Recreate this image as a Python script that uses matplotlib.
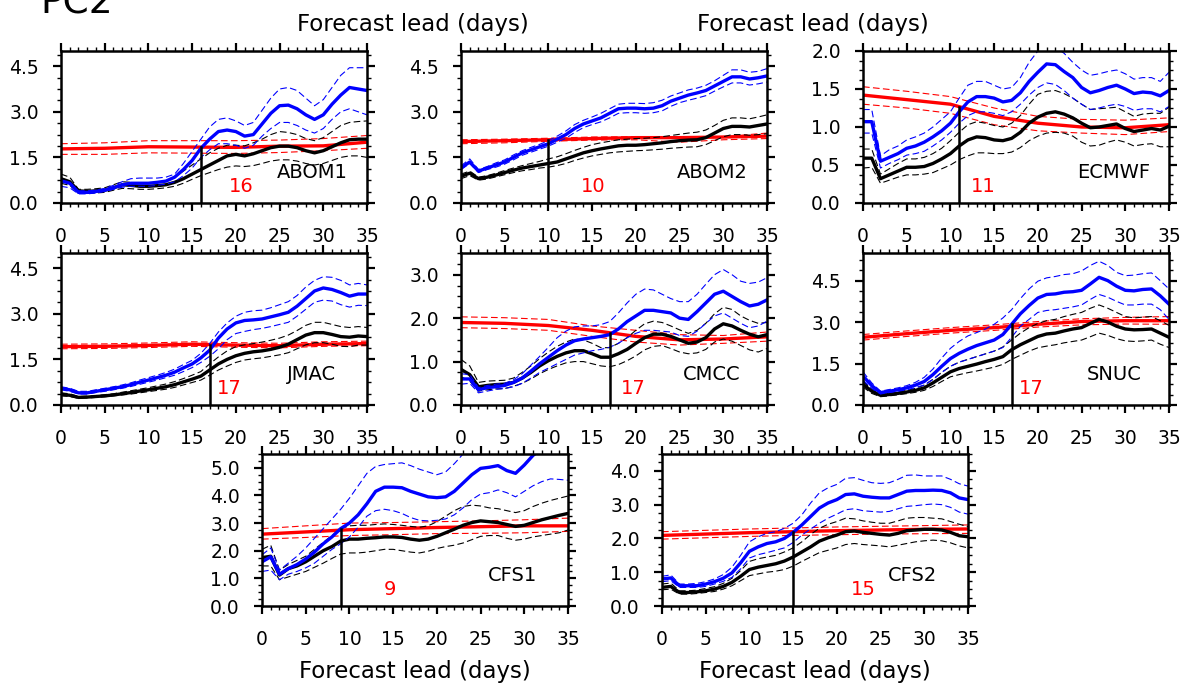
import matplotlib
matplotlib.use("Agg")
import matplotlib.pyplot as plt
import numpy as np
from matplotlib.ticker import MultipleLocator, AutoMinorLocator

# lead days
days = list(range(36))
red_days = [0, 5, 10, 15, 20, 25, 30, 35]

# ---------------- ABOM1 ----------------
abom1_blue = [0.73, 0.65, 0.35, 0.35, 0.38, 0.42, 0.5, 0.6, 0.65, 0.65, 0.65, 0.68, 0.72, 0.85, 1.1, 1.4, 1.8, 2.1,
              2.35, 2.4, 2.35, 2.2, 2.25, 2.6, 2.95, 3.2, 3.22, 3.1, 2.9, 2.75, 2.9, 3.25, 3.55, 3.8, 3.75, 3.7]
abom1_blue_hi = [0.7, 0.65, 0.4, 0.4, 0.42, 0.48, 0.58, 0.7, 0.8, 0.82, 0.82, 0.82, 0.85, 0.95, 1.3, 1.7, 2.1, 2.5,
                 2.75, 2.8, 2.7, 2.55, 2.65, 3.05, 3.45, 3.75, 3.8, 3.7, 3.45, 3.2, 3.4, 3.8, 4.2, 4.45, 4.45, 4.45]
abom1_blue_lo = [0.55, 0.5, 0.3, 0.3, 0.33, 0.38, 0.45, 0.52, 0.55, 0.55, 0.55, 0.58, 0.62, 0.7, 0.9, 1.15, 1.5, 1.75,
                 1.95, 1.95, 1.9, 1.8, 1.9, 2.2, 2.45, 2.65, 2.65, 2.55, 2.4, 2.3, 2.45, 2.75, 3.0, 3.1, 3.0, 2.9]
abom1_black = [0.8, 0.7, 0.4, 0.38, 0.4, 0.42, 0.5, 0.6, 0.58, 0.55, 0.55, 0.57, 0.6, 0.68, 0.8, 0.95, 1.1, 1.25,
               1.4, 1.55, 1.6, 1.55, 1.62, 1.72, 1.82, 1.87, 1.87, 1.82, 1.72, 1.65, 1.72, 1.85, 1.98, 2.08, 2.1, 2.1]
abom1_black_hi = [0.95, 0.85, 0.45, 0.45, 0.47, 0.5, 0.6, 0.7, 0.68, 0.65, 0.65, 0.67, 0.72, 0.85, 1.05, 1.25, 1.45,
                  1.65, 1.8, 1.9, 1.9, 1.88, 1.98, 2.1, 2.25, 2.35, 2.32, 2.25, 2.12, 2.05, 2.15, 2.35, 2.55, 2.65,
                  2.68, 2.7]
abom1_black_lo = [0.65, 0.58, 0.33, 0.32, 0.33, 0.35, 0.42, 0.48, 0.47, 0.45, 0.45, 0.47, 0.5, 0.55, 0.65, 0.78, 0.9,
                  1.0, 1.1, 1.18, 1.22, 1.2, 1.23, 1.3, 1.38, 1.42, 1.42, 1.38, 1.3, 1.25, 1.3, 1.4, 1.5, 1.55, 1.55,
                  1.5]
abom1_red = [1.78, 1.8, 1.85, 1.84, 1.83, 1.87, 1.88, 2.0]
abom1_red_hi = [1.95, 1.98, 2.05, 2.05, 2.05, 2.07, 2.12, 2.22]
abom1_red_lo = [1.6, 1.6, 1.65, 1.64, 1.63, 1.66, 1.72, 1.8]

# ---------------- ABOM2 ----------------
abom2_blue = [1.15, 1.35, 1.05, 1.15, 1.25, 1.35, 1.5, 1.65, 1.75, 1.85, 1.95, 2.1, 2.25, 2.45, 2.6, 2.7, 2.8, 2.95,
              3.1, 3.12, 3.12, 3.1, 3.12, 3.2, 3.35, 3.45, 3.55, 3.62, 3.7, 3.85, 4.0, 4.15, 4.15, 4.08, 4.12, 4.18]
abom2_blue_hi = [1.22, 1.45, 1.1, 1.2, 1.32, 1.42, 1.58, 1.72, 1.83, 1.93, 2.05, 2.2, 2.37, 2.58, 2.72, 2.83, 2.95,
                 3.1, 3.25, 3.28, 3.28, 3.27, 3.3, 3.38, 3.52, 3.62, 3.72, 3.78, 3.87, 4.02, 4.2, 4.38, 4.38, 4.3,
                 4.33, 4.42]
abom2_blue_lo = [1.1, 1.3, 1.0, 1.1, 1.18, 1.28, 1.42, 1.57, 1.67, 1.77, 1.87, 2.0, 2.13, 2.32, 2.48, 2.58, 2.67, 2.8,
                 2.95, 2.97, 2.97, 2.95, 2.97, 3.03, 3.18, 3.3, 3.38, 3.45, 3.53, 3.68, 3.82, 3.95, 3.95, 3.88, 3.92,
                 3.98]
abom2_black = [0.88, 0.98, 0.8, 0.85, 0.92, 1.0, 1.08, 1.15, 1.2, 1.25, 1.3, 1.35, 1.45, 1.55, 1.65, 1.72, 1.78, 1.83,
               1.88, 1.9, 1.9, 1.92, 1.95, 1.98, 2.02, 2.05, 2.07, 2.08, 2.15, 2.3, 2.45, 2.52, 2.52, 2.5, 2.55, 2.6]
abom2_black_hi = [0.95, 1.05, 0.85, 0.9, 0.98, 1.07, 1.15, 1.23, 1.3, 1.37, 1.45, 1.52, 1.62, 1.73, 1.83, 1.92, 1.98,
                  2.03, 2.08, 2.1, 2.12, 2.13, 2.15, 2.18, 2.22, 2.26, 2.3, 2.33, 2.4, 2.55, 2.72, 2.8, 2.8, 2.77,
                  2.83, 2.9]
abom2_black_lo = [0.8, 0.9, 0.75, 0.79, 0.86, 0.93, 1.0, 1.06, 1.1, 1.15, 1.18, 1.23, 1.3, 1.4, 1.48, 1.55, 1.6, 1.65,
                  1.68, 1.7, 1.72, 1.73, 1.75, 1.77, 1.8, 1.82, 1.84, 1.85, 1.92, 2.05, 2.18, 2.25, 2.25, 2.23, 2.25,
                  2.28]
abom2_red = [2.02, 2.05, 2.08, 2.12, 2.15, 2.15, 2.17, 2.2]
abom2_red_hi = [2.08, 2.1, 2.13, 2.17, 2.18, 2.12, 2.18, 2.3]
abom2_red_lo = [1.95, 1.98, 2.03, 2.07, 2.08, 2.0, 2.08, 2.12]

# ---------------- ECMWF ----------------
ecmwf_blue = [1.07, 1.07, 0.55, 0.6, 0.65, 0.72, 0.75, 0.8, 0.87, 0.95, 1.05, 1.2, 1.33, 1.4, 1.4, 1.38, 1.33, 1.35,
              1.45, 1.6, 1.72, 1.83, 1.82, 1.73, 1.65, 1.52, 1.45, 1.48, 1.52, 1.55, 1.5, 1.44, 1.46, 1.45, 1.41, 1.48]
ecmwf_blue_hi = [1.23, 1.23, 0.62, 0.7, 0.75, 0.83, 0.87, 0.92, 1.0, 1.1, 1.2, 1.38, 1.55, 1.6, 1.6, 1.55, 1.5, 1.52,
                 1.65, 1.85, 2.0, 2.1, 2.05, 1.97, 1.85, 1.75, 1.68, 1.7, 1.73, 1.75, 1.7, 1.63, 1.65, 1.65, 1.6,
                 1.72]
ecmwf_blue_lo = [0.92, 0.92, 0.46, 0.52, 0.57, 0.63, 0.65, 0.68, 0.75, 0.83, 0.93, 1.05, 1.15, 1.2, 1.2, 1.18, 1.15,
                 1.2, 1.3, 1.42, 1.52, 1.58, 1.56, 1.48, 1.38, 1.3, 1.23, 1.25, 1.28, 1.3, 1.27, 1.22, 1.24, 1.24,
                 1.2, 1.27]
ecmwf_black = [0.59, 0.59, 0.32, 0.37, 0.42, 0.47, 0.47, 0.48, 0.52, 0.58, 0.65, 0.75, 0.83, 0.87, 0.86, 0.83, 0.82,
               0.85, 0.93, 1.05, 1.13, 1.18, 1.2, 1.17, 1.12, 1.05, 0.99, 1.0, 1.02, 1.04, 0.98, 0.94, 0.96, 0.98,
               0.96, 1.01]
ecmwf_black_hi = [0.71, 0.71, 0.38, 0.45, 0.52, 0.58, 0.58, 0.6, 0.65, 0.72, 0.82, 0.93, 1.03, 1.07, 1.05, 1.02, 1.0,
                  1.05, 1.15, 1.3, 1.43, 1.47, 1.48, 1.44, 1.38, 1.3, 1.23, 1.24, 1.25, 1.26, 1.2, 1.14, 1.17, 1.18,
                  1.18, 1.26]
ecmwf_black_lo = [0.46, 0.47, 0.26, 0.3, 0.34, 0.37, 0.37, 0.38, 0.4, 0.45, 0.5, 0.57, 0.62, 0.66, 0.66, 0.65, 0.65,
                  0.67, 0.73, 0.82, 0.88, 0.92, 0.93, 0.92, 0.88, 0.8, 0.75, 0.76, 0.8, 0.83, 0.8, 0.75, 0.77, 0.78,
                  0.74, 0.74]
ecmwf_red = [1.42, 1.36, 1.3, 1.14, 1.05, 1.0, 0.99, 1.03]
ecmwf_red_hi = [1.53, 1.47, 1.4, 1.25, 1.14, 1.1, 1.09, 1.12]
ecmwf_red_lo = [1.3, 1.25, 1.18, 1.03, 0.95, 0.92, 0.9, 0.94]

# ---------------- JMAC ----------------
jmac_blue = [0.55, 0.5, 0.4, 0.4, 0.45, 0.5, 0.55, 0.6, 0.67, 0.75, 0.82, 0.9, 0.98, 1.08, 1.22, 1.35, 1.55, 1.8,
             2.2, 2.5, 2.7, 2.78, 2.8, 2.83, 2.9, 2.97, 3.05, 3.25, 3.5, 3.75, 3.85, 3.8, 3.7, 3.58, 3.65, 3.65]
jmac_blue_hi = [0.6, 0.55, 0.45, 0.45, 0.5, 0.55, 0.6, 0.66, 0.73, 0.82, 0.9, 0.98, 1.07, 1.18, 1.33, 1.47, 1.7, 2.02,
                2.4, 2.7, 2.92, 3.05, 3.1, 3.12, 3.2, 3.3, 3.4, 3.6, 3.88, 4.1, 4.22, 4.2, 4.1, 3.95, 4.0, 3.95]
jmac_blue_lo = [0.5, 0.45, 0.36, 0.36, 0.41, 0.45, 0.5, 0.55, 0.61, 0.68, 0.75, 0.82, 0.9, 0.98, 1.1, 1.23, 1.4, 1.6,
                1.85, 2.15, 2.35, 2.42, 2.48, 2.52, 2.58, 2.65, 2.72, 2.92, 3.15, 3.38, 3.45, 3.42, 3.3, 3.22, 3.28,
                3.27]
jmac_black = [0.35, 0.32, 0.25, 0.26, 0.28, 0.3, 0.33, 0.37, 0.41, 0.46, 0.5, 0.55, 0.6, 0.67, 0.76, 0.85, 0.95, 1.15,
              1.35, 1.5, 1.62, 1.7, 1.75, 1.78, 1.83, 1.9, 2.0, 2.15, 2.3, 2.38, 2.38, 2.32, 2.25, 2.23, 2.27, 2.25]
jmac_black_hi = [0.4, 0.37, 0.28, 0.29, 0.31, 0.34, 0.37, 0.42, 0.47, 0.52, 0.57, 0.63, 0.69, 0.77, 0.87, 0.98, 1.1,
                 1.35, 1.58, 1.78, 1.92, 1.98, 2.02, 2.07, 2.13, 2.2, 2.3, 2.45, 2.62, 2.72, 2.72, 2.65, 2.58, 2.55,
                 2.58, 2.55]
jmac_black_lo = [0.3, 0.28, 0.22, 0.23, 0.25, 0.27, 0.3, 0.33, 0.36, 0.4, 0.44, 0.48, 0.52, 0.58, 0.66, 0.74, 0.82,
                 0.98, 1.15, 1.28, 1.4, 1.48, 1.52, 1.55, 1.6, 1.65, 1.72, 1.85, 1.98, 2.05, 2.05, 2.0, 1.93, 1.92,
                 1.97, 1.97]
jmac_red = [1.92, 1.93, 1.96, 2.0, 1.97, 1.95, 2.0, 2.02]
jmac_red_hi = [2.0, 2.01, 2.04, 2.08, 2.05, 2.03, 2.08, 2.1]
jmac_red_lo = [1.85, 1.86, 1.89, 1.93, 1.9, 1.88, 1.93, 1.95]

# ---------------- CMCC ----------------
cmcc_blue = [0.6, 0.6, 0.35, 0.4, 0.42, 0.45, 0.52, 0.62, 0.78, 0.95, 1.1, 1.25, 1.38, 1.48, 1.52, 1.55, 1.58, 1.62,
             1.75, 1.92, 2.05, 2.18, 2.18, 2.15, 2.12, 2.0, 1.97, 2.15, 2.35, 2.55, 2.62, 2.5, 2.38, 2.28, 2.32, 2.42]
cmcc_blue_hi = [0.72, 0.7, 0.4, 0.45, 0.48, 0.5, 0.58, 0.72, 0.92, 1.12, 1.33, 1.55, 1.7, 1.8, 1.82, 1.82, 1.85, 1.92,
                2.12, 2.35, 2.55, 2.67, 2.65, 2.55, 2.45, 2.38, 2.38, 2.55, 2.78, 3.0, 3.12, 3.0, 2.85, 2.8, 2.83,
                2.93]
cmcc_blue_lo = [0.48, 0.5, 0.28, 0.32, 0.36, 0.38, 0.42, 0.5, 0.62, 0.75, 0.85, 0.95, 1.05, 1.15, 1.2, 1.25, 1.28,
                1.33, 1.42, 1.55, 1.65, 1.72, 1.72, 1.7, 1.68, 1.6, 1.58, 1.7, 1.88, 2.05, 2.12, 2.0, 1.88, 1.78,
                1.82, 1.93]
cmcc_black = [0.82, 0.7, 0.42, 0.45, 0.47, 0.48, 0.52, 0.62, 0.75, 0.9, 1.02, 1.12, 1.2, 1.25, 1.25, 1.18, 1.1, 1.1,
              1.18, 1.28, 1.42, 1.55, 1.63, 1.63, 1.58, 1.5, 1.42, 1.45, 1.55, 1.75, 1.87, 1.82, 1.72, 1.63, 1.57,
              1.62]
cmcc_black_hi = [1.05, 0.9, 0.52, 0.55, 0.56, 0.57, 0.62, 0.75, 0.9, 1.07, 1.22, 1.35, 1.45, 1.52, 1.5, 1.42, 1.32,
                 1.32, 1.42, 1.55, 1.72, 1.87, 1.93, 1.9, 1.82, 1.73, 1.65, 1.72, 1.88, 2.1, 2.25, 2.2, 2.05, 1.95,
                 1.88, 1.9]
cmcc_black_lo = [0.65, 0.55, 0.32, 0.35, 0.37, 0.38, 0.43, 0.5, 0.6, 0.72, 0.82, 0.9, 0.97, 1.0, 1.0, 0.95, 0.9,
                 0.88, 0.93, 1.02, 1.13, 1.27, 1.35, 1.37, 1.3, 1.22, 1.18, 1.2, 1.28, 1.45, 1.52, 1.47, 1.37, 1.27,
                 1.22, 1.3]
cmcc_red = [1.9, 1.88, 1.83, 1.72, 1.58, 1.5, 1.52, 1.57]
cmcc_red_hi = [2.03, 2.01, 1.97, 1.82, 1.72, 1.62, 1.6, 1.68]
cmcc_red_lo = [1.78, 1.76, 1.72, 1.58, 1.45, 1.38, 1.42, 1.47]

# ---------------- SNUC ----------------
snuc_blue = [1.05, 0.7, 0.45, 0.5, 0.55, 0.62, 0.72, 0.85, 1.1, 1.4, 1.68, 1.87, 2.02, 2.15, 2.25, 2.35, 2.55, 2.92,
             3.3, 3.6, 3.87, 4.0, 4.02, 4.08, 4.1, 4.15, 4.38, 4.62, 4.5, 4.3, 4.15, 4.13, 4.18, 4.2, 3.95, 3.65]
snuc_blue_hi = [1.2, 0.8, 0.5, 0.56, 0.62, 0.7, 0.82, 1.0, 1.3, 1.7, 2.05, 2.3, 2.5, 2.62, 2.75, 2.92, 3.15, 3.45,
                3.85, 4.2, 4.48, 4.6, 4.65, 4.72, 4.75, 4.85, 5.05, 5.2, 5.05, 4.8, 4.68, 4.7, 4.75, 4.78, 4.5, 4.2]
snuc_blue_lo = [0.9, 0.6, 0.4, 0.45, 0.5, 0.55, 0.63, 0.72, 0.92, 1.18, 1.4, 1.55, 1.65, 1.75, 1.85, 1.95, 2.08, 2.45,
                2.85, 3.1, 3.35, 3.42, 3.45, 3.5, 3.55, 3.62, 3.82, 4.0, 3.9, 3.75, 3.62, 3.62, 3.65, 3.65, 3.45, 3.1]
snuc_black = [0.75, 0.5, 0.35, 0.38, 0.42, 0.47, 0.53, 0.62, 0.8, 1.0, 1.2, 1.32, 1.4, 1.48, 1.57, 1.65, 1.75, 2.0,
              2.18, 2.33, 2.48, 2.57, 2.6, 2.68, 2.75, 2.8, 2.95, 3.1, 3.0, 2.85, 2.75, 2.72, 2.73, 2.75, 2.6, 2.45]
snuc_black_hi = [0.85, 0.58, 0.4, 0.43, 0.47, 0.53, 0.6, 0.72, 0.93, 1.18, 1.4, 1.55, 1.65, 1.75, 1.85, 1.95, 2.1,
                 2.35, 2.6, 2.8, 2.95, 3.05, 3.1, 3.2, 3.28, 3.35, 3.5, 3.62, 3.5, 3.35, 3.2, 3.15, 3.18, 3.2, 3.05,
                 2.88]
snuc_black_lo = [0.65, 0.42, 0.3, 0.33, 0.37, 0.41, 0.46, 0.53, 0.67, 0.85, 1.02, 1.1, 1.17, 1.23, 1.3, 1.37, 1.47,
                 1.65, 1.8, 1.95, 2.07, 2.13, 2.18, 2.25, 2.3, 2.35, 2.47, 2.6, 2.52, 2.4, 2.32, 2.3, 2.32, 2.35, 2.2,
                 2.08]
snuc_red = [2.45, 2.58, 2.7, 2.8, 2.92, 3.02, 3.05, 3.05]
snuc_red_hi = [2.55, 2.68, 2.8, 2.9, 3.02, 3.12, 3.17, 3.2]
snuc_red_lo = [2.35, 2.48, 2.6, 2.7, 2.82, 2.9, 2.93, 2.92]

# ---------------- CFS1 ----------------
cfs1_blue = [1.6, 1.78, 1.15, 1.35, 1.5, 1.7, 1.95, 2.25, 2.5, 2.8, 3.0, 3.3, 3.7, 4.15, 4.3, 4.3, 4.28, 4.15, 4.05,
             3.95, 3.92, 3.95, 4.15, 4.45, 4.75, 4.98, 5.02, 5.08, 4.9, 4.8, 5.1, 5.45, 5.7, 5.9, 6.1, 6.3]
cfs1_blue_hi = [1.85, 2.1, 1.3, 1.55, 1.8, 2.1, 2.45, 2.8, 3.15, 3.5, 3.9, 4.35, 4.8, 5.05, 5.12, 5.15, 5.18, 5.08,
                4.95, 4.85, 4.75, 4.85, 5.15, 5.5, 5.8, 6.0, 6.1, 6.2, 6.1, 6.0, 6.2, 6.5, 6.7, 6.9, 7.0, 7.1]
cfs1_blue_lo = [1.25, 1.3, 0.95, 1.15, 1.25, 1.38, 1.55, 1.8, 2.05, 2.25, 2.5, 2.85, 3.25, 3.45, 3.5, 3.45, 3.35, 3.2,
                3.1, 3.08, 3.1, 3.15, 3.3, 3.55, 3.85, 4.05, 4.1, 4.2, 4.1, 3.95, 4.15, 4.35, 4.5, 4.6, 4.58, 4.55]
cfs1_black = [1.75, 1.8, 1.12, 1.35, 1.45, 1.6, 1.8, 2.0, 2.15, 2.35, 2.42, 2.42, 2.45, 2.47, 2.5, 2.5, 2.48, 2.42,
              2.38, 2.42, 2.52, 2.65, 2.78, 2.92, 3.02, 3.08, 3.05, 3.02, 2.95, 2.88, 2.92, 3.02, 3.12, 3.2, 3.28, 3.35]
cfs1_black_hi = [2.05, 2.2, 1.3, 1.5, 1.65, 1.8, 2.05, 2.3, 2.55, 2.8, 2.9, 2.92, 2.92, 2.95, 2.97, 2.95, 2.92, 2.88,
                 2.85, 2.9, 3.05, 3.25, 3.45, 3.6, 3.65, 3.62, 3.55, 3.52, 3.45, 3.38, 3.45, 3.6, 3.72, 3.82, 3.9,
                 3.98]
cfs1_black_lo = [1.45, 1.45, 0.95, 1.05, 1.15, 1.25, 1.4, 1.55, 1.72, 1.88, 1.92, 1.92, 1.95, 2.0, 2.05, 2.05, 2.0,
                 1.95, 1.92, 1.98, 2.08, 2.15, 2.2, 2.28, 2.4, 2.52, 2.55, 2.55, 2.45, 2.38, 2.42, 2.5, 2.55, 2.6,
                 2.65, 2.75]
cfs1_red = [2.6, 2.68, 2.76, 2.8, 2.84, 2.87, 2.9, 2.9]
cfs1_red_hi = [2.8, 2.9, 3.0, 3.02, 3.05, 3.08, 3.12, 3.18]
cfs1_red_lo = [2.42, 2.48, 2.55, 2.58, 2.62, 2.63, 2.65, 2.7]

# ---------------- CFS2 ----------------
cfs2_blue = [0.8, 0.83, 0.6, 0.6, 0.6, 0.65, 0.72, 0.82, 0.98, 1.28, 1.62, 1.75, 1.85, 1.9, 2.0, 2.18, 2.4, 2.65,
             2.9, 3.05, 3.15, 3.3, 3.32, 3.25, 3.22, 3.2, 3.2, 3.3, 3.4, 3.42, 3.42, 3.43, 3.42, 3.35, 3.2, 3.15]
cfs2_blue_hi = [0.88, 0.92, 0.65, 0.65, 0.67, 0.72, 0.8, 0.93, 1.15, 1.5, 1.9, 2.05, 2.15, 2.2, 2.3, 2.45, 2.7, 3.05,
                3.35, 3.5, 3.6, 3.78, 3.8, 3.72, 3.65, 3.63, 3.65, 3.75, 3.87, 3.88, 3.85, 3.85, 3.85, 3.75, 3.62,
                3.55]
cfs2_blue_lo = [0.72, 0.75, 0.55, 0.55, 0.55, 0.58, 0.65, 0.73, 0.85, 1.1, 1.42, 1.52, 1.58, 1.65, 1.72, 1.88, 2.1,
                2.28, 2.45, 2.6, 2.72, 2.85, 2.88, 2.82, 2.8, 2.78, 2.8, 2.88, 2.95, 2.97, 3.0, 3.02, 3.0, 2.92,
                2.78, 2.72]
cfs2_black = [0.55, 0.58, 0.4, 0.4, 0.42, 0.45, 0.5, 0.58, 0.7, 0.88, 1.08, 1.15, 1.2, 1.25, 1.33, 1.45, 1.6, 1.75,
              1.92, 2.02, 2.1, 2.2, 2.22, 2.18, 2.15, 2.12, 2.1, 2.15, 2.23, 2.25, 2.27, 2.27, 2.25, 2.18, 2.08, 2.05]
cfs2_black_hi = [0.65, 0.68, 0.45, 0.45, 0.47, 0.52, 0.57, 0.67, 0.82, 1.05, 1.32, 1.4, 1.45, 1.5, 1.6, 1.72, 1.9,
                 2.12, 2.3, 2.42, 2.5, 2.6, 2.58, 2.52, 2.48, 2.45, 2.45, 2.52, 2.6, 2.62, 2.62, 2.6, 2.58, 2.5,
                 2.42, 2.35]
cfs2_black_lo = [0.48, 0.5, 0.35, 0.35, 0.37, 0.4, 0.43, 0.5, 0.6, 0.75, 0.9, 0.95, 1.0, 1.03, 1.08, 1.18, 1.32, 1.45,
                 1.58, 1.65, 1.72, 1.82, 1.85, 1.82, 1.8, 1.78, 1.75, 1.8, 1.85, 1.9, 1.93, 1.95, 1.93, 1.87, 1.78,
                 1.72]
cfs2_red = [2.09, 2.13, 2.17, 2.2, 2.23, 2.25, 2.27, 2.28]
cfs2_red_hi = [2.2, 2.24, 2.28, 2.31, 2.34, 2.36, 2.38, 2.4]
cfs2_red_lo = [1.98, 2.02, 2.06, 2.09, 2.11, 2.13, 2.14, 2.15]

models = ["ABOM1", "ABOM2", "ECMWF", "JMAC", "CMCC", "SNUC", "CFS1", "CFS2"]
cross_days = [16, 10, 11, 17, 17, 17, 9, 15]
y_tops = [5.0, 5.0, 2.0, 5.0, 3.5, 5.5, 5.5, 4.5]
y_steps = [1.5, 1.5, 0.5, 1.5, 1.0, 1.5, 1.0, 1.0]

series = {
    "ABOM1": (abom1_blue, abom1_blue_hi, abom1_blue_lo, abom1_black, abom1_black_hi, abom1_black_lo,
              abom1_red, abom1_red_hi, abom1_red_lo),
    "ABOM2": (abom2_blue, abom2_blue_hi, abom2_blue_lo, abom2_black, abom2_black_hi, abom2_black_lo,
              abom2_red, abom2_red_hi, abom2_red_lo),
    "ECMWF": (ecmwf_blue, ecmwf_blue_hi, ecmwf_blue_lo, ecmwf_black, ecmwf_black_hi, ecmwf_black_lo,
              ecmwf_red, ecmwf_red_hi, ecmwf_red_lo),
    "JMAC": (jmac_blue, jmac_blue_hi, jmac_blue_lo, jmac_black, jmac_black_hi, jmac_black_lo,
             jmac_red, jmac_red_hi, jmac_red_lo),
    "CMCC": (cmcc_blue, cmcc_blue_hi, cmcc_blue_lo, cmcc_black, cmcc_black_hi, cmcc_black_lo,
             cmcc_red, cmcc_red_hi, cmcc_red_lo),
    "SNUC": (snuc_blue, snuc_blue_hi, snuc_blue_lo, snuc_black, snuc_black_hi, snuc_black_lo,
             snuc_red, snuc_red_hi, snuc_red_lo),
    "CFS1": (cfs1_blue, cfs1_blue_hi, cfs1_blue_lo, cfs1_black, cfs1_black_hi, cfs1_black_lo,
             cfs1_red, cfs1_red_hi, cfs1_red_lo),
    "CFS2": (cfs2_blue, cfs2_blue_hi, cfs2_blue_lo, cfs2_black, cfs2_black_hi, cfs2_black_lo,
             cfs2_red, cfs2_red_hi, cfs2_red_lo),
}

# layout (figure fractions) and where the red number sits (in days)
W, H = 1188, 684
axes_px = [(61, 51), (461, 51), (863, 51),
           (61, 253), (461, 253), (863, 253),
           (262, 454), (662, 454)]
num_x = [20.6, 15.1, 13.8, 19.2, 19.7, 19.2, 14.6, 23.0]

fig = plt.figure(figsize=(W / 100, H / 100), dpi=100)

thick = 2.4
thin = 0.8
dash = (0, (6, 3))

for i, m in enumerate(models):
    px, py = axes_px[i]
    ax = fig.add_axes([px / W, 1 - (py + 152) / H, 306 / W, 152 / H])
    b, bh, bl, k, kh, kl, r, rh, rl = series[m]

    ax.plot(red_days, rh, color="red", lw=thin, ls=dash)
    ax.plot(red_days, rl, color="red", lw=thin, ls=dash)
    ax.plot(red_days, r, color="red", lw=thick)

    ax.plot(days, kh, color="black", lw=thin, ls=dash)
    ax.plot(days, kl, color="black", lw=thin, ls=dash)
    ax.plot(days, k, color="black", lw=thick)

    ax.plot(days, bh, color="blue", lw=thin, ls=dash)
    ax.plot(days, bl, color="blue", lw=thin, ls=dash)
    ax.plot(days, b, color="blue", lw=thick)

    cd = cross_days[i]
    ytop = max(np.interp(cd, red_days, r), b[cd])
    ax.plot([cd, cd], [0, ytop], color="black", lw=1.8)

    ax.text(num_x[i], 0.11 * y_tops[i], str(cd), color="red", fontsize=14, ha="center", va="center")
    ax.text(0.82, 0.2, m, transform=ax.transAxes, fontsize=14, ha="center", va="center")

    ax.set_xlim(0, 35)
    ax.set_ylim(0, y_tops[i])
    ax.xaxis.set_major_locator(MultipleLocator(5))
    ax.xaxis.set_minor_locator(MultipleLocator(1))
    ax.yaxis.set_major_locator(MultipleLocator(y_steps[i]))
    ax.yaxis.set_minor_locator(AutoMinorLocator(4))
    ax.yaxis.set_major_formatter(plt.FormatStrFormatter("%.1f"))
    ax.tick_params(which="both", direction="out", top=True, right=True, labelsize=13.5)
    ax.tick_params(which="major", length=6, width=1.6)
    ax.tick_params(which="minor", length=3, width=1.0)
    ax.tick_params(axis="x", which="major", pad=11)
    ax.tick_params(axis="y", which="major", pad=10)
    for sp in ax.spines.values():
        sp.set_linewidth(1.8)

    if i >= 6:
        ax.set_xlabel("Forecast lead (days)", fontsize=16.5, labelpad=8)

fig.text(40 / W, 1 - 13 / H, "PC2", fontsize=27, va="baseline")
fig.text(413 / W, 1 - 31 / H, "Forecast lead (days)", fontsize=16.5, ha="center", va="baseline")
fig.text(813 / W, 1 - 31 / H, "Forecast lead (days)", fontsize=16.5, ha="center", va="baseline")

fig.savefig("out.png", dpi=100)
